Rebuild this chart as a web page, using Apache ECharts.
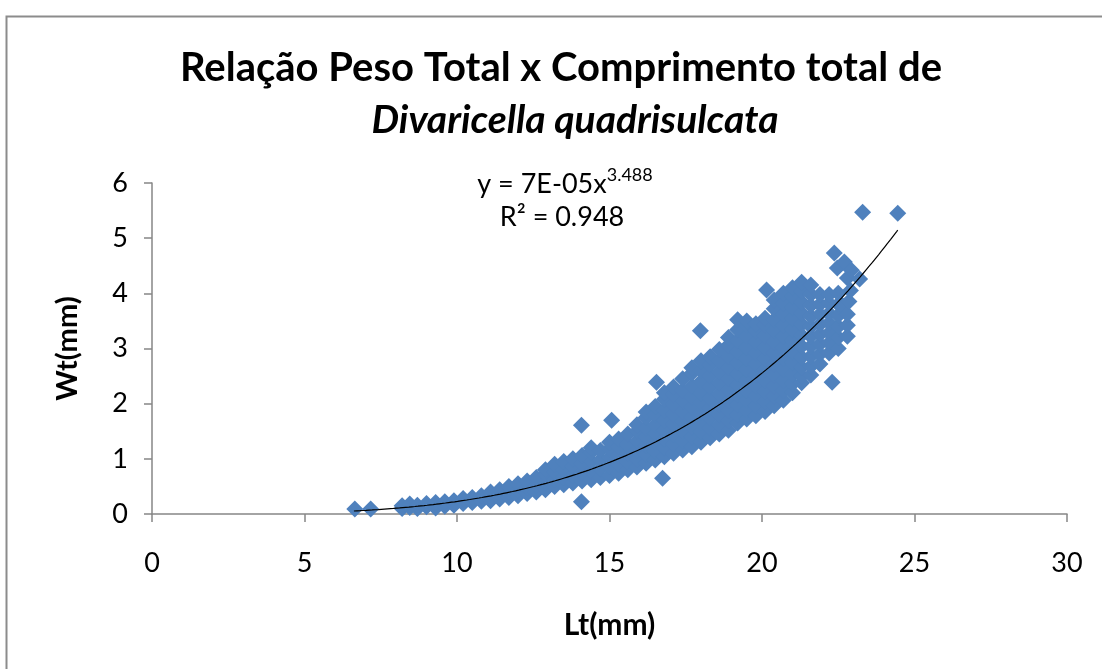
<!DOCTYPE html>
<html>
<head>
<meta charset="utf-8">
<script src="https://cdn.jsdelivr.net/npm/echarts@6/dist/echarts.min.js"></script>
<style>
html,body{margin:0;padding:0;background:#fff;}
#chart{width:1102px;height:669px;}
</style>
</head>
<body>
<div id="chart"></div>
<script>
// Title / labels
const titleLine1 = 'Relação Peso Total x Comprimento total de';
const titleLine2 = 'Divaricella quadrisulcata';
const xAxisName = 'Lt(mm)';
const yAxisName = 'Wt(mm)';
const equationBase = 'y = 7E-05x';
const equationExp = '3.488';
const rSquaredText = 'R² = 0.948';

// Axis ranges
const xTicks = [0, 5, 10, 15, 20, 25, 30];
const yTicks = [0, 1, 2, 3, 4, 5, 6];

// Power trendline coefficients (y = a * x^b), as displayed
const trendA = 7.4e-5;
const trendB = 3.488;
const trendXStart = 6.62;
const trendXEnd = 24.45;

const smallShells = [
  [6.65,0.09],[7.17,0.09],
  [8.2,0.10],[8.2,0.15],[8.45,0.12],[8.45,0.18],[8.7,0.10],[8.7,0.16],
  [9.0,0.13],[9.0,0.19],[9.3,0.11],[9.3,0.17],[9.3,0.21],[9.6,0.14],[9.6,0.22],
  [9.9,0.16],[9.9,0.24],[10.2,0.19],[10.2,0.28],[10.5,0.21],[10.5,0.30],
  [10.8,0.23],[10.8,0.33],[11.1,0.24],[11.1,0.31],[11.1,0.40],
  [11.4,0.27],[11.4,0.36],[11.4,0.44],[11.7,0.30],[11.7,0.40],[11.7,0.50],
  [12.0,0.33],[12.0,0.44],[12.0,0.55],[12.3,0.37],[12.3,0.48],[12.3,0.60],
  [12.6,0.40],[12.6,0.52],[12.6,0.66],[12.9,0.44],[12.9,0.57],[12.9,0.72],[12.9,0.80],
  [13.2,0.50],[13.2,0.62],[13.2,0.76],[13.2,0.90],[13.5,0.53],[13.5,0.66],[13.5,0.80],[13.5,0.95],
  [13.8,0.56],[13.8,0.70],[13.8,0.86],[13.8,1.00],
  [14.08,0.22],[14.08,1.61],[14.1,0.60],[14.1,0.74],[14.1,0.90],[14.1,1.06],
  [14.4,0.62],[14.4,0.78],[14.4,0.95],[14.4,1.12],[14.4,1.20],
  [14.7,0.66],[14.7,0.82],[14.7,0.98],[14.7,1.15],
  [15.0,0.70],[15.0,0.86],[15.0,1.02],[15.0,1.18],[15.0,1.30],[15.07,1.70],
  [15.3,0.74],[15.3,0.90],[15.3,1.06],[15.3,1.22],[15.3,1.36],
  [15.6,0.80],[15.6,0.95],[15.6,1.10],[15.6,1.26],[15.6,1.45],
  [15.9,0.85],[15.9,1.00],[15.9,1.16],[15.9,1.32],[15.9,1.50],[15.9,1.62]
];
const midShells = [
  [16.2,0.92],[16.2,1.08],[16.2,1.24],[16.2,1.40],[16.2,1.56],[16.2,1.75],[16.2,1.85],
  [16.5,0.98],[16.5,1.14],[16.5,1.30],[16.5,1.46],[16.5,1.62],[16.5,1.80],[16.5,1.95],[16.54,2.39],
  [16.74,0.65],
  [16.8,1.04],[16.8,1.20],[16.8,1.36],[16.8,1.52],[16.8,1.70],[16.8,1.88],[16.8,2.08],[16.8,2.20],
  [17.1,1.10],[17.1,1.27],[17.1,1.44],[17.1,1.62],[17.1,1.80],[17.1,1.98],[17.1,2.16],[17.1,2.30],
  [17.4,1.16],[17.4,1.33],[17.4,1.50],[17.4,1.68],[17.4,1.86],[17.4,2.05],[17.4,2.24],[17.4,2.45],
  [17.7,1.22],[17.7,1.40],[17.7,1.58],[17.7,1.76],[17.7,1.94],[17.7,2.12],[17.7,2.32],[17.7,2.55],[17.7,2.65],
  [18.0,1.30],[18.0,1.48],[18.0,1.66],[18.0,1.84],[18.0,2.02],[18.0,2.20],[18.0,2.40],[18.0,2.60],[18.0,2.78],[17.98,3.32],
  [18.3,1.38],[18.3,1.56],[18.3,1.74],[18.3,1.92],[18.3,2.10],[18.3,2.30],[18.3,2.50],[18.3,2.70],[18.3,2.85],
  [18.6,1.45],[18.6,1.62],[18.6,1.80],[18.6,1.98],[18.6,2.18],[18.6,2.38],[18.6,2.58],[18.6,2.78],[18.6,2.98],
  [18.9,1.52],[18.9,1.70],[18.9,1.88],[18.9,2.06],[18.9,2.26],[18.9,2.46],[18.9,2.66],[18.9,2.86],[18.9,3.06],[18.9,3.20]
];
const largeShells = [
  [19.2,1.65],[19.2,1.80],[19.2,1.98],[19.2,2.16],[19.2,2.34],[19.2,2.54],[19.2,2.74],[19.2,2.94],[19.2,3.14],[19.2,3.34],[19.2,3.52],
  [19.5,1.72],[19.5,1.88],[19.5,2.06],[19.5,2.24],[19.5,2.42],[19.5,2.62],[19.5,2.82],[19.5,3.02],[19.5,3.22],[19.5,3.42],[19.5,3.50],
  [19.8,1.78],[19.8,1.96],[19.8,2.14],[19.8,2.32],[19.8,2.52],[19.8,2.72],[19.8,2.92],[19.8,3.12],[19.8,3.32],[19.8,3.45],
  [20.15,4.06],
  [20.1,1.86],[20.1,2.04],[20.1,2.22],[20.1,2.42],[20.1,2.62],[20.1,2.82],[20.1,3.02],[20.1,3.22],[20.1,3.42],[20.1,3.55],
  [20.4,1.96],[20.4,2.14],[20.4,2.32],[20.4,2.52],[20.4,2.72],[20.4,2.92],[20.4,3.12],[20.4,3.32],[20.4,3.52],[20.4,3.72],[20.4,3.88],
  [20.7,2.06],[20.7,2.24],[20.7,2.42],[20.7,2.62],[20.7,2.82],[20.7,3.02],[20.7,3.22],[20.7,3.42],[20.7,3.62],[20.7,3.82],[20.7,4.00],
  [21.0,2.20],[21.0,2.36],[21.0,2.54],[21.0,2.74],[21.0,2.94],[21.0,3.14],[21.0,3.34],[21.0,3.54],[21.0,3.74],[21.0,3.94],[21.0,4.10],
  [21.3,2.38],[21.3,2.50],[21.3,2.66],[21.3,2.84],[21.3,3.04],[21.3,3.24],[21.3,3.44],[21.3,3.64],[21.3,3.84],[21.3,4.04],[21.3,4.20],
  [21.6,2.52],[21.6,2.68],[21.6,2.86],[21.6,3.04],[21.6,3.22],[21.6,3.40],[21.6,3.58],[21.6,3.78],[21.6,3.98],[21.6,4.15],
  [21.9,2.72],[21.9,2.90],[21.9,3.08],[21.9,3.26],[21.9,3.44],[21.9,3.62],[21.9,3.80],[21.9,3.98],
  [22.2,2.92],[22.2,3.10],[22.2,3.28],[22.2,3.46],[22.2,3.64],[22.2,3.82],[22.2,3.98],
  [22.3,2.39],
  [22.37,4.73],[22.47,4.46],[22.7,4.57],[22.8,4.28],[22.93,4.42],[23.2,4.26],
  [22.5,3.00],[22.5,3.20],[22.5,3.40],[22.5,3.60],[22.5,3.80],[22.5,4.00],
  [22.6,3.80],[22.8,3.22],[22.8,3.42],[22.8,3.62],[22.85,3.85],[22.9,4.05],
  [23.3,5.47],[24.45,5.45]
];

const allShells = smallShells.concat(midShells, largeShells);

// Trend line samples through the displayed power model
const trendLine = [];
for (let x = trendXStart; x <= trendXEnd + 1e-9; x += 0.1) {
  trendLine.push([x, trendA * Math.pow(x, trendB)]);
}
trendLine.push([trendXEnd, trendA * Math.pow(trendXEnd, trendB)]);

const FONT = 'Lato';
const chart = echarts.init(document.getElementById('chart'), null, {renderer: 'canvas'});
chart.setOption({
  animation: false,
  backgroundColor: '#ffffff',
  grid: {left: 152, right: 35, top: 183, bottom: 155, containLabel: false},
  xAxis: {
    type: 'value', min: xTicks[0], max: xTicks[xTicks.length - 1], interval: 5,
    name: xAxisName, nameLocation: 'middle', nameGap: 96,
    nameTextStyle: {fontFamily: FONT, fontWeight: 'bold', fontSize: 30, color: '#000'},
    axisLine: {lineStyle: {color: '#868686', width: 1.5}},
    axisTick: {show: true, inside: false, length: 8, lineStyle: {color: '#868686', width: 1.5}},
    axisLabel: {fontFamily: FONT, fontSize: 27, color: '#000', margin: 36},
    splitLine: {show: false}
  },
  yAxis: {
    type: 'value', min: yTicks[0], max: yTicks[yTicks.length - 1], interval: 1,
    name: yAxisName, nameLocation: 'middle', nameGap: 70, nameRotate: 90,
    nameTextStyle: {fontFamily: FONT, fontWeight: 'bold', fontSize: 29, color: '#000'},
    axisLine: {show: true, lineStyle: {color: '#868686', width: 1.5}},
    axisTick: {show: true, inside: false, length: 8, lineStyle: {color: '#868686', width: 1.5}},
    axisLabel: {fontFamily: FONT, fontSize: 27, color: '#000', margin: 24},
    splitLine: {show: false}
  },
  series: [
    {
      type: 'scatter', data: allShells, symbol: 'diamond', symbolSize: 17,
      itemStyle: {color: '#4F81BD', opacity: 1}, z: 2, silent: true
    },
    {
      type: 'line', data: trendLine, showSymbol: false, smooth: false,
      lineStyle: {color: '#000', width: 1.2}, z: 3, silent: true
    }
  ],
  graphic: [
    {type: 'rect', left: 4, top: 14, shape: {x: 0, y: 0, width: 1120, height: 700},
     style: {fill: 'none', stroke: '#8c8c8c', lineWidth: 2}, silent: true, z: -1},
    {type: 'text', x: 561, y: 68, style: {text: titleLine1, fontFamily: FONT, fontWeight: 'bold', fontSize: 40, fill: '#000', align: 'center', verticalAlign: 'middle'}},
    {type: 'text', x: 575, y: 120, style: {text: titleLine2, fontFamily: FONT, fontWeight: 'bold', fontStyle: 'italic', fontSize: 39, fill: '#000', align: 'center', verticalAlign: 'middle'}},
    {type: 'text', x: 565, y: 182, style: {
      text: '{b|' + equationBase + '}{s|' + equationExp + '}',
      align: 'center', verticalAlign: 'middle',
      rich: {
        b: {fontFamily: FONT, fontSize: 27, color: '#000', lineHeight: 32, verticalAlign: 'bottom'},
        s: {fontFamily: FONT, fontSize: 18, color: '#000', lineHeight: 32, verticalAlign: 'top'}
      }}},
    {type: 'text', x: 562, y: 217, style: {text: rSquaredText, fontFamily: FONT, fontSize: 27, fill: '#000', align: 'center', verticalAlign: 'middle'}}
  ]
});
</script>
</body>
</html>
